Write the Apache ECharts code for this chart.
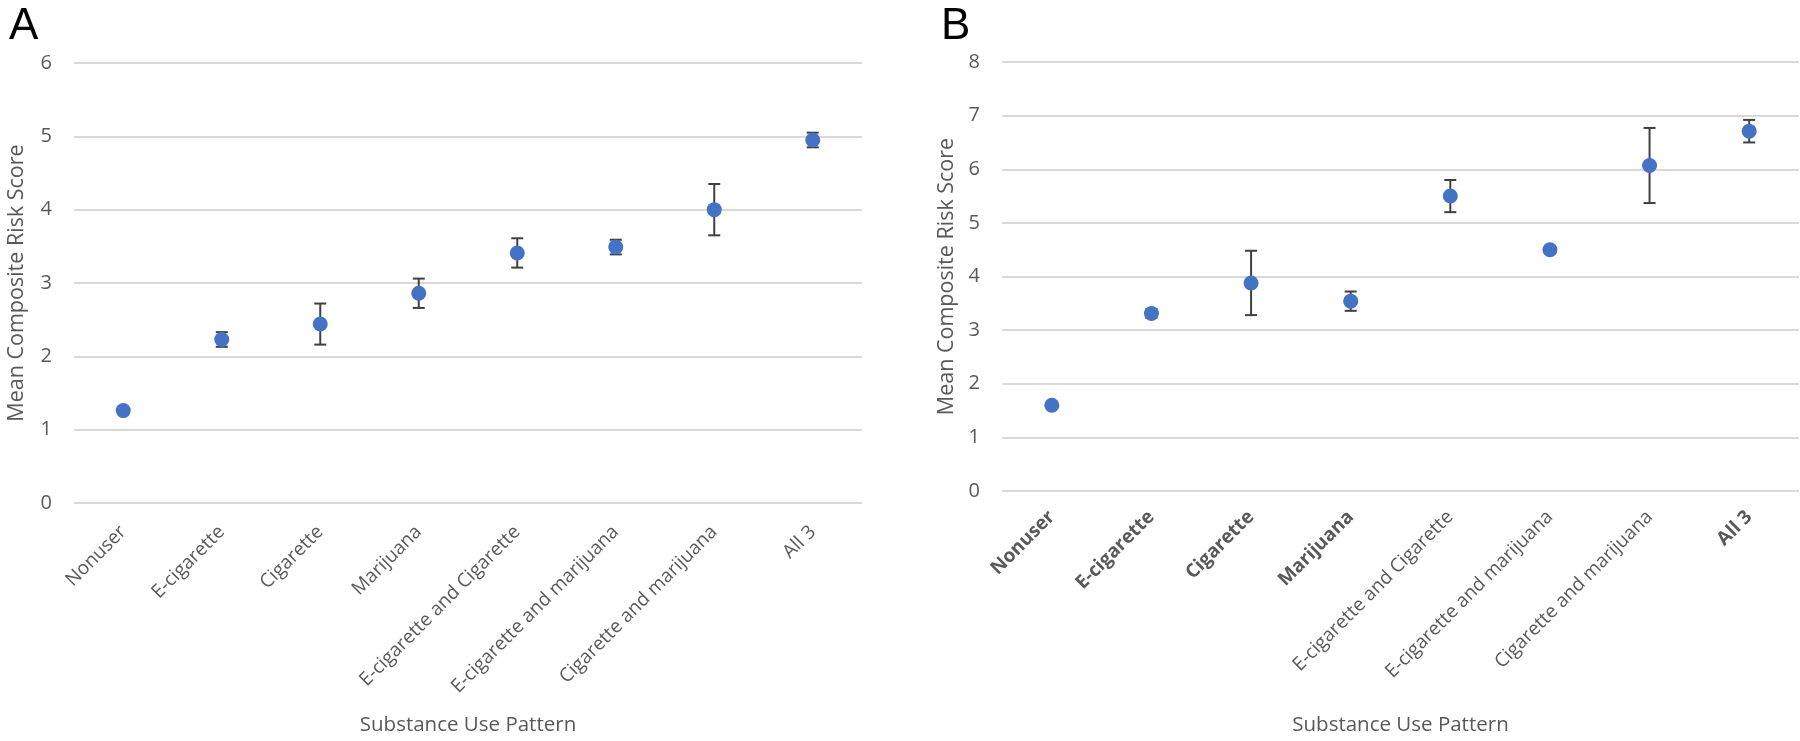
<!DOCTYPE html>
<html>
<head>
<meta charset="utf-8">
<script src="https://cdn.jsdelivr.net/npm/echarts@6/dist/echarts.min.js"></script>
<style>
  html, body { margin: 0; padding: 0; background: #ffffff; }
  #chart { width: 1800px; height: 741px; }
</style>
</head>
<body>
<div id="chart"></div>
<script>
// ---- data ----
const categories = ['Nonuser', 'E-cigarette', 'Cigarette', 'Marijuana',
  'E-cigarette and Cigarette', 'E-cigarette and marijuana', 'Cigarette and marijuana', 'All 3'];
const boldCategoriesB = ['Nonuser', 'E-cigarette', 'Cigarette', 'Marijuana', 'All 3'];

const meanA = [1.26, 2.23, 2.44, 2.86, 3.41, 3.49, 4.00, 4.95];
const errA  = [0.04, 0.10, 0.28, 0.20, 0.20, 0.10, 0.35, 0.10];

const meanB = [1.60, 3.31, 3.88, 3.54, 5.50, 4.50, 6.07, 6.71];
const errB  = [0.05, 0.08, 0.60, 0.18, 0.30, 0.05, 0.70, 0.21];

const yTicksA = [0, 1, 2, 3, 4, 5, 6];
const yTicksB = [0, 1, 2, 3, 4, 5, 6, 7, 8];

const panelLetters = ['A', 'B'];
const yTitle = 'Mean Composite Risk Score';
const xTitle = 'Substance Use Pattern';

// ---- styles ----
const FONT = '"Open Sans", "Noto Sans", sans-serif';
const TXT = '#595959';
const GRID_LINE = '#d9d9d9';
const MARK = '#4472C4';
const ERR = '#404040';

function errData(mean, err) {
  return mean.map((m, i) => [i, m - err[i], m + err[i]]);
}

function errRender(params, api) {
  const x = api.value(0);
  const lo = api.coord([x, api.value(1)]);
  const hi = api.coord([x, api.value(2)]);
  const cap = 6;
  const style = { stroke: ERR, lineWidth: 2 };
  return {
    type: 'group',
    children: [
      { type: 'line', shape: { x1: lo[0], y1: lo[1], x2: hi[0], y2: hi[1] }, style },
      { type: 'line', shape: { x1: hi[0] - cap, y1: hi[1], x2: hi[0] + cap, y2: hi[1] }, style },
      { type: 'line', shape: { x1: lo[0] - cap, y1: lo[1], x2: lo[0] + cap, y2: lo[1] }, style }
    ]
  };
}

function xAxisCfg(gridIndex, boldList, nameGap, margin) {
  return {
    type: 'category',
    gridIndex,
    data: categories.map(c => ({
      value: c,
      textStyle: { fontWeight: boldList.includes(c) ? 'bold' : 'normal' }
    })),
    boundaryGap: true,
    axisLine: { show: false },
    axisTick: { show: false },
    axisLabel: {
      rotate: 45, margin, interval: 0,
      color: TXT, fontFamily: FONT, fontSize: 19
    },
    name: xTitle,
    nameLocation: 'middle',
    nameGap,
    nameTextStyle: { color: TXT, fontFamily: FONT, fontSize: 20.5 }
  };
}

function yAxisCfg(gridIndex, ticks, nameGap, margin) {
  return {
    type: 'value',
    gridIndex,
    min: ticks[0],
    max: ticks[ticks.length - 1],
    interval: ticks[1] - ticks[0],
    axisLine: { show: false },
    axisTick: { show: false },
    axisLabel: { color: TXT, fontFamily: FONT, fontSize: 20, margin },
    splitLine: { lineStyle: { color: GRID_LINE, width: 2 } },
    name: yTitle,
    nameLocation: 'middle',
    nameRotate: 90,
    nameGap,
    nameTextStyle: { color: TXT, fontFamily: FONT, fontSize: 21.5 }
  };
}

const chart = echarts.init(document.getElementById('chart'), null, { renderer: 'canvas' });
chart.setOption({
  backgroundColor: '#ffffff',
  animation: false,
  title: [
    { text: panelLetters[0], left: 4, top: 0, textStyle: { fontFamily: '"Liberation Sans", Arial, sans-serif', fontWeight: 'normal', fontSize: 44, color: '#000' } },
    { text: panelLetters[1], left: 936, top: 0, textStyle: { fontFamily: '"Liberation Sans", Arial, sans-serif', fontWeight: 'normal', fontSize: 44, color: '#000' } }
  ],
  grid: [
    { left: 74, right: 938, top: 63, bottom: 237 },
    { left: 1002, right: 1, top: 62, bottom: 249 }
  ],
  xAxis: [
    xAxisCfg(0, [], 212, 26),
    xAxisCfg(1, boldCategoriesB, 224, 23)
  ],
  yAxis: [
    yAxisCfg(0, yTicksA, 46, 22),
    yAxisCfg(1, yTicksB, 44, 22)
  ],
  series: [
    { type: 'custom', xAxisIndex: 0, yAxisIndex: 0, renderItem: errRender, data: errData(meanA, errA), z: 2 },
    { type: 'scatter', xAxisIndex: 0, yAxisIndex: 0, data: meanA, symbol: 'circle', symbolSize: 15,
      itemStyle: { color: MARK, opacity: 1 }, z: 3 },
    { type: 'custom', xAxisIndex: 1, yAxisIndex: 1, renderItem: errRender, data: errData(meanB, errB), z: 2 },
    { type: 'scatter', xAxisIndex: 1, yAxisIndex: 1, data: meanB, symbol: 'circle', symbolSize: 15,
      itemStyle: { color: MARK, opacity: 1 }, z: 3 }
  ]
});
</script>
</body>
</html>
